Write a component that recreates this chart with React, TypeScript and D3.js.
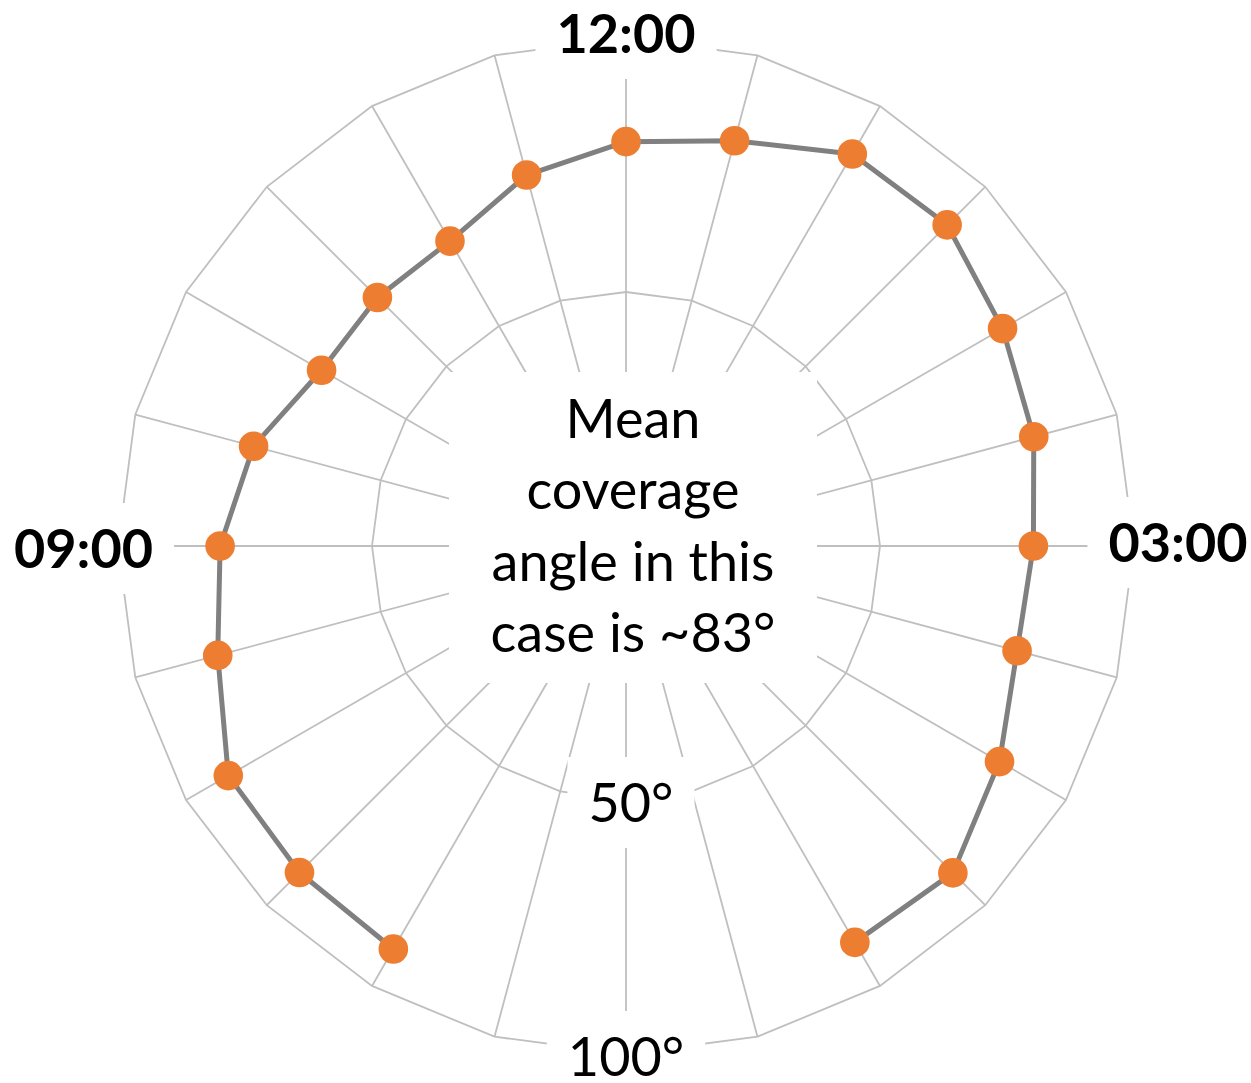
import React, { useEffect, useRef } from "react";
import * as d3 from "d3";

// 24 spokes, one every 15° (clock positions, 12:00 at top, clockwise)
const spokeLabels: string[] = [
  "12:00", "", "", "", "", "", "03:00", "", "", "", "", "",
  "", "", "", "", "", "", "09:00", "", "", "", "", "",
];
// coverage values per spoke (null = no data)
const coverage: (number | null)[] = [
  79.6, 82.6, 89.1, 89.4, 85.6, 83.1, 80.2, 79.7, 84.9, 91.0, 90.1, null,
  null, null, 91.6, 90.9, 90.4, 83.2, 79.9, 75.9, 69.2, 69.2, 69.3, 75.6,
];
const ringTicks: number[] = [50, 100];
const ringTickLabels: string[] = ["50°", "100°"];
const centerNote: string[] = ["Mean", "coverage", "angle in this", "case is ~83°"];

const W = 1251;
const H = 1083;
const FONT = "Lato, 'Open Sans', sans-serif";

export default function App() {
  const ref = useRef<SVGSVGElement | null>(null);

  useEffect(() => {
    const svg = d3.select(ref.current);
    svg.selectAll("*").remove();

    const cx = 626, cy = 546, R = 508;
    const n = spokeLabels.length;
    const rScale = d3.scaleLinear().domain([0, 100]).range([0, R]);
    const aScale = d3.scaleLinear().domain([0, n]).range([0, 2 * Math.PI]);
    const pt = (i: number, v: number): [number, number] => {
      const a = aScale(i);
      return [cx + rScale(v) * Math.sin(a), cy - rScale(v) * Math.cos(a)];
    };

    const g = svg.append("g");
    const grid = "#bfbfbf";

    // spokes
    g.selectAll("line.spoke")
      .data(d3.range(n))
      .join("line")
      .attr("x1", cx).attr("y1", cy)
      .attr("x2", (i) => pt(i, 100)[0])
      .attr("y2", (i) => pt(i, 100)[1])
      .attr("stroke", grid).attr("stroke-width", 1.8);

    // rings (polygons)
    g.selectAll("path.ring")
      .data(ringTicks)
      .join("path")
      .attr("d", (t) => {
        const p = d3.path();
        d3.range(n).forEach((i) => {
          const [x, y] = pt(i, t);
          if (i === 0) p.moveTo(x, y); else p.lineTo(x, y);
        });
        p.closePath();
        return p.toString();
      })
      .attr("fill", "none").attr("stroke", grid).attr("stroke-width", 1.8);

    // series line (starting after the gap so the path wraps over the top)
    let start = 0;
    for (let i = 0; i < n; i++) {
      if (coverage[i] != null && coverage[(i - 1 + n) % n] == null) { start = i; break; }
    }
    const ordered = d3.range(n).map((k) => {
      const i = (start + k) % n;
      return { i, v: coverage[i] };
    });
    const line = d3.lineRadial<{ i: number; v: number | null }>()
      .angle((d) => aScale(d.i))
      .radius((d) => rScale(d.v as number))
      .defined((d) => d.v != null);
    g.append("path")
      .attr("transform", `translate(${cx},${cy})`)
      .attr("d", line(ordered) as string)
      .attr("fill", "none").attr("stroke", "#808080").attr("stroke-width", 5)
      .attr("stroke-linejoin", "round");

    g.selectAll("circle.mk")
      .data(ordered.filter((d) => d.v != null))
      .join("circle")
      .attr("cx", (d) => pt(d.i, d.v as number)[0])
      .attr("cy", (d) => pt(d.i, d.v as number)[1])
      .attr("r", 14.8)
      .attr("fill", "#ed7d31");

    // center text box
    const boxW = 368, boxH = 311;
    const bx = cx + 7;
    g.append("rect")
      .attr("x", bx - boxW / 2).attr("y", 372)
      .attr("width", boxW).attr("height", boxH)
      .attr("fill", "#fff");
    const fs = 54;
    g.selectAll("text.note")
      .data(centerNote)
      .join("text")
      .attr("x", bx)
      .attr("y", (_d, k) => 438 + k * 71.3)
      .attr("text-anchor", "middle")
      .attr("font-family", FONT).attr("font-size", fs)
      .attr("fill", "#000")
      .text((d) => d);

    // labels with white boxes
    type Lab = { text: string; x: number; y: number; bold: boolean };
    const labs: Lab[] = [];
    spokeLabels.forEach((s, i) => {
      if (!s) return;
      const [x, y] = pt(i, 100);
      if (i === 0) labs.push({ text: s, x, y: y + 15, bold: true });
      else if (i === 6) labs.push({ text: s, x: x + 44, y: y + 16, bold: true });
      else if (i === 18) labs.push({ text: s, x: x - 34.5, y: y + 22, bold: true });
    });
    ringTicks.forEach((t, k) => {
      const [x, y] = pt(n / 2, t);
      labs.push({ text: ringTickLabels[k], x: x + (k === 0 ? 5 : 0), y: y + (k === 0 ? 22 : 22), bold: false });
    });

    labs.forEach((l) => {
      const bg = g.append("rect").attr("fill", "#fff");
      const t = g.append("text")
        .attr("x", l.x).attr("y", l.y)
        .attr("text-anchor", "middle")
        .attr("font-family", FONT).attr("font-size", fs)
        .attr("font-weight", l.bold ? "bold" : "normal")
        .attr("fill", "#000")
        .text(l.text);
      const w = (t.node() as SVGTextElement).getComputedTextLength();
      bg.attr("x", l.x - w / 2 - 21).attr("y", l.y - 65)
        .attr("width", w + 42).attr("height", 91);
    });
  }, []);

  return (
    <svg ref={ref} width={W} height={H} style={{ display: "block", position: "absolute", left: 0, top: 0, background: "#fff" }} />
  );
}
